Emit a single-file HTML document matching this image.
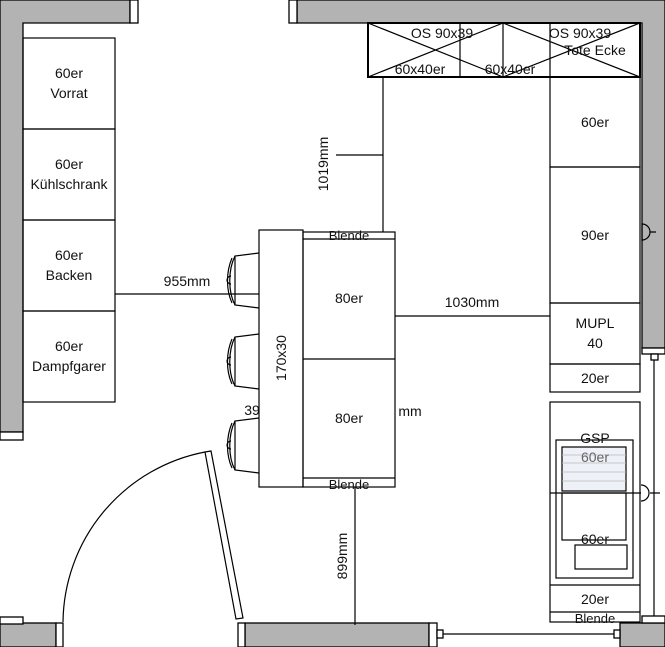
<!DOCTYPE html>
<html><head><style>body{margin:0;background:#fff}svg{display:block}text{font-family:"Liberation Sans",sans-serif;font-size:14px;fill:#111}</style></head><body>
<svg width="665" height="647" viewBox="0 0 665 647" xmlns="http://www.w3.org/2000/svg">
<g stroke="#000" stroke-width="1.3" fill="#b3b3b3">
<path d="M0 0H130V23H23V432H0Z"/>
<rect x="130" y="0" width="8" height="23" fill="#fff"/>
<rect x="0" y="432" width="23" height="8" fill="#fff"/>
<path d="M297 0H665V348H642V23H297Z"/>
<rect x="289" y="0" width="8" height="23" fill="#fff"/>
<rect x="642" y="348" width="23" height="6" fill="#fff"/>
<rect x="651" y="354" width="7" height="6" fill="#fff"/>
<rect x="0" y="623" width="56" height="24"/>
<rect x="0" y="617" width="23" height="7" fill="#fff"/>
<rect x="56" y="623" width="7" height="24" fill="#fff"/>
<rect x="245" y="623" width="184" height="24"/>
<rect x="238" y="623" width="7" height="24" fill="#fff"/>
<rect x="429" y="623" width="8" height="24" fill="#fff"/>
<rect x="437" y="630" width="6" height="8" fill="#fff"/>
<rect x="620" y="623" width="45" height="24"/>
<rect x="614" y="630" width="6" height="8" fill="#fff"/>
<rect x="642" y="616" width="23" height="7" fill="#fff"/>
</g>
<g stroke="#000" stroke-width="1.2" fill="none">
<line x1="654" y1="360" x2="654" y2="616"/>
<line x1="443" y1="634" x2="614" y2="634"/>
<path d="M642 223V241M642 224A8 8 0 0 1 642 240M650 232H656"/>
<path d="M641 485A8 8 0 0 1 641 501M650 493H660"/>
<rect x="23" y="38" width="92" height="91"/><rect x="23" y="129" width="92" height="91"/><rect x="23" y="220" width="92" height="91"/><rect x="23" y="311" width="92" height="91"/>
<rect x="368" y="23" width="272" height="54" stroke-width="2"/>
<path d="M460 23V77M503 23V77M550 23V77M368 77L503 23M368 23L503 77M503 77L640 23M503 23L640 77"/>
<rect x="550" y="77" width="90" height="90"/><rect x="550" y="167" width="90" height="136"/><rect x="550" y="303" width="90" height="61"/><rect x="550" y="364" width="90" height="28"/>
<rect x="550" y="402" width="90" height="220"/><line x1="550" y1="585" x2="640" y2="585"/><line x1="550" y1="612" x2="640" y2="612"/>
<rect x="556" y="440" width="77" height="138"/>
<rect x="562" y="447" width="64" height="44" fill="#eef1f7"/>
<path d="M562 455H626M562 463H626M562 472H626M562 481H626" stroke="#bbb" stroke-width="0.8"/>
<rect x="562" y="493" width="64" height="47"/><rect x="575" y="545" width="52" height="24"/>
<line x1="550" y1="493" x2="641" y2="493"/>
<rect x="259" y="230" width="44" height="257"/>
<rect x="303" y="232" width="92" height="255"/><path d="M303 239H395M303 359H395M303 478H395"/>
<g id="st"><path d="M259 253L235 256V305L259 308"/><path d="M235 256C228 270 228 292 235 305M232 258C226 272 226 290 232 303"/><path d="M231 276A4 4 0 0 0 231 284"/></g>
<use href="#st" transform="translate(0,81)"/><use href="#st" transform="translate(0,165)"/>
<path d="M383 77V232M336 155H383M115 294H259M395 316H550M355 487V625"/>
<path d="M205 452L211 451L243 618L236 619Z"/>
<path d="M63 622A175 175 0 0 1 205 452"/>
</g>
<g text-anchor="middle">
<text x="69" y="78">60er</text><text x="69" y="98">Vorrat</text>
<text x="69" y="169">60er</text><text x="69" y="189">Kühlschrank</text>
<text x="69" y="260">60er</text><text x="69" y="280">Backen</text>
<text x="69" y="351">60er</text><text x="69" y="371">Dampfgarer</text>
<text x="442" y="38">OS 90x39</text><text x="580" y="38">OS 90x39</text><text x="595" y="55">Tote Ecke</text>
<text x="420" y="74">60x40er</text><text x="510" y="74">60x40er</text>
<text x="595" y="127">60er</text><text x="595" y="240">90er</text>
<text x="595" y="328">MUPL</text><text x="595" y="348">40</text><text x="595" y="383">20er</text>
<text x="595" y="443">GSP</text><text x="595" y="462" style="fill:#666">60er</text><text x="595" y="544">60er</text>
<text x="595" y="604">20er</text><text x="595" y="623" style="font-size:13px">Blende</text>
<text x="349" y="240" style="font-size:13px">Blende</text><text x="349" y="489" style="font-size:13px">Blende</text>
<text x="349" y="303">80er</text><text x="349" y="423">80er</text>
<text x="187" y="286">955mm</text><text x="472" y="307">1030mm</text>
<text x="252" y="415">39</text><text x="410" y="416">mm</text>
<text transform="translate(286,358) rotate(-90)">170x30</text>
<text transform="translate(328,164) rotate(-90)">1019mm</text>
<text transform="translate(347,556) rotate(-90)">899mm</text>
</g>
</svg>
</body></html>
